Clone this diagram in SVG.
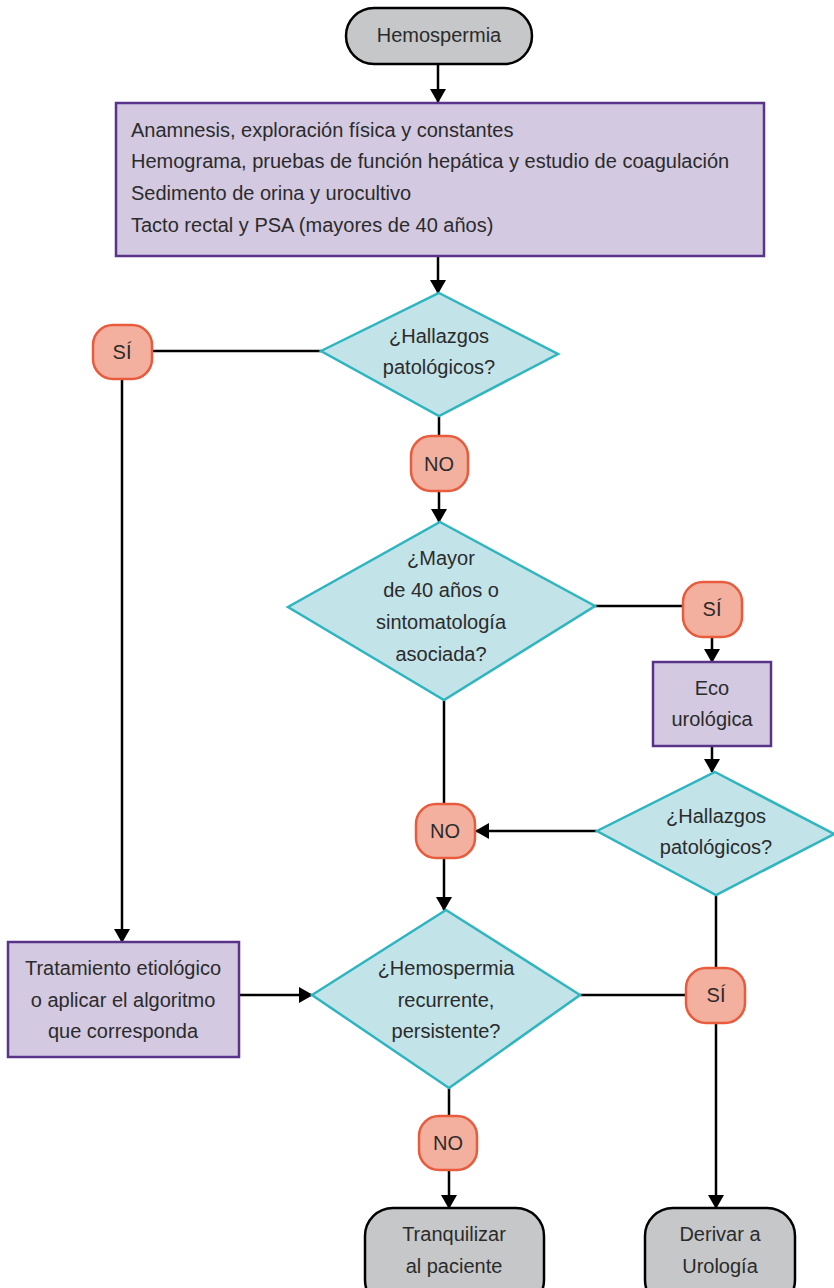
<svg xmlns="http://www.w3.org/2000/svg" width="834" height="1288" viewBox="0 0 834 1288">
<defs>
<marker id="ah" viewBox="0 0 14 16" refX="13" refY="8" markerWidth="14" markerHeight="16" markerUnits="userSpaceOnUse" orient="auto">
<path d="M0,0 L14,8 L0,16 Z" fill="#000"/>
</marker>
<style>
text{font-family:"Liberation Sans",Arial,sans-serif;font-size:20px;fill:#2b2b2b;}
.c{text-anchor:middle;}
.term{fill:#c6c7c9;stroke:#000;stroke-width:2.5;}
.proc{fill:#d3c9e1;stroke:#5a348a;stroke-width:2.5;}
.dec{fill:#c2e3e8;stroke:#2fb5c0;stroke-width:2.5;}
.lab{fill:#f4b09f;stroke:#e85b3c;stroke-width:2.5;}
.ln{fill:none;stroke:#000;stroke-width:2.5;}
.ar{fill:none;stroke:#000;stroke-width:2.5;marker-end:url(#ah);}
</style>
</defs>

<g id="connectors">
<line class="ar" x1="438" y1="64" x2="438" y2="102"/>
<line class="ar" x1="438" y1="256" x2="438" y2="293"/>
<line class="ln" x1="152" y1="351" x2="321" y2="351"/>
<line class="ar" x1="122" y1="379" x2="122" y2="942"/>
<line class="ln" x1="439" y1="417" x2="439" y2="436"/>
<line class="ar" x1="439" y1="491" x2="439" y2="522"/>
<line class="ln" x1="595" y1="606" x2="683" y2="606"/>
<line class="ar" x1="712" y1="637" x2="712" y2="662"/>
<line class="ar" x1="712" y1="746" x2="712" y2="772"/>
<line class="ar" x1="597" y1="831" x2="476" y2="831"/>
<line class="ln" x1="444" y1="700" x2="444" y2="804"/>
<line class="ar" x1="444" y1="858" x2="444" y2="910"/>
<line class="ar" x1="239" y1="995" x2="312" y2="995"/>
<line class="ln" x1="580" y1="995" x2="686" y2="995"/>
<line class="ln" x1="716" y1="895" x2="716" y2="968"/>
<line class="ar" x1="716" y1="1023" x2="716" y2="1208"/>
<line class="ln" x1="449" y1="1088" x2="449" y2="1116"/>
<line class="ar" x1="449" y1="1170" x2="449" y2="1208"/>
</g>

<g id="start">
<rect class="term" x="346" y="8" width="186" height="56" rx="28"/>
<text class="c" x="439" y="42">Hemospermia</text>
</g>

<g id="initial">
<rect class="proc" x="116" y="103" width="648" height="153"/>
<text x="131" y="137">Anamnesis, exploración física y constantes</text>
<text x="131" y="168">Hemograma, pruebas de función hepática y estudio de coagulación</text>
<text x="131" y="200">Sedimento de orina y urocultivo</text>
<text x="131" y="232">Tacto rectal y PSA (mayores de 40 años)</text>
</g>

<g id="dec1">
<polygon class="dec" points="439,293 558,354 439,416 321,351"/>
<text class="c" x="439" y="343">¿Hallazgos</text>
<text class="c" x="439" y="374">patológicos?</text>
</g>

<g id="si1">
<rect class="lab" x="93" y="325" width="59" height="54" rx="20"/>
<text class="c" x="122" y="359">SÍ</text>
</g>

<g id="no1">
<rect class="lab" x="411" y="436" width="57" height="55" rx="20"/>
<text class="c" x="439" y="471">NO</text>
</g>

<g id="dec2">
<polygon class="dec" points="440,522 595,606 444,700 288,607"/>
<text class="c" x="441" y="565">¿Mayor</text>
<text class="c" x="441" y="597">de 40 años o</text>
<text class="c" x="441" y="629">sintomatología</text>
<text class="c" x="441" y="661">asociada?</text>
</g>

<g id="si2">
<rect class="lab" x="683" y="582" width="59" height="55" rx="20"/>
<text class="c" x="712" y="616">SÍ</text>
</g>

<g id="eco">
<rect class="proc" x="653" y="662" width="118" height="84"/>
<text class="c" x="712" y="695">Eco</text>
<text class="c" x="712" y="726">urológica</text>
</g>

<g id="dec3">
<polygon class="dec" points="715,772 834,834 716,895 597,831"/>
<text class="c" x="716" y="823">¿Hallazgos</text>
<text class="c" x="716" y="854">patológicos?</text>
</g>

<g id="no2">
<rect class="lab" x="416" y="804" width="59" height="54" rx="20"/>
<text class="c" x="445" y="838">NO</text>
</g>

<g id="tratamiento">
<rect class="proc" x="8" y="942" width="231" height="115"/>
<text class="c" x="123" y="975">Tratamiento etiológico</text>
<text class="c" x="123" y="1007">o aplicar el algoritmo</text>
<text class="c" x="123" y="1038">que corresponda</text>
</g>

<g id="dec4">
<polygon class="dec" points="446,910 580,995 449,1088 312,995"/>
<text class="c" x="446" y="975">¿Hemospermia</text>
<text class="c" x="446" y="1007">recurrente,</text>
<text class="c" x="446" y="1038">persistente?</text>
</g>

<g id="si3">
<rect class="lab" x="686" y="968" width="59" height="55" rx="20"/>
<text class="c" x="716" y="1002">SÍ</text>
</g>

<g id="no3">
<rect class="lab" x="419" y="1116" width="58" height="54" rx="20"/>
<text class="c" x="448" y="1150">NO</text>
</g>

<g id="tranquilizar">
<rect class="term" x="365" y="1208" width="179" height="100" rx="28"/>
<text class="c" x="454" y="1241">Tranquilizar</text>
<text class="c" x="454" y="1273">al paciente</text>
</g>

<g id="derivar">
<rect class="term" x="645" y="1208" width="150" height="100" rx="28"/>
<text class="c" x="720" y="1241">Derivar a</text>
<text class="c" x="720" y="1273">Urología</text>
</g>
</svg>
